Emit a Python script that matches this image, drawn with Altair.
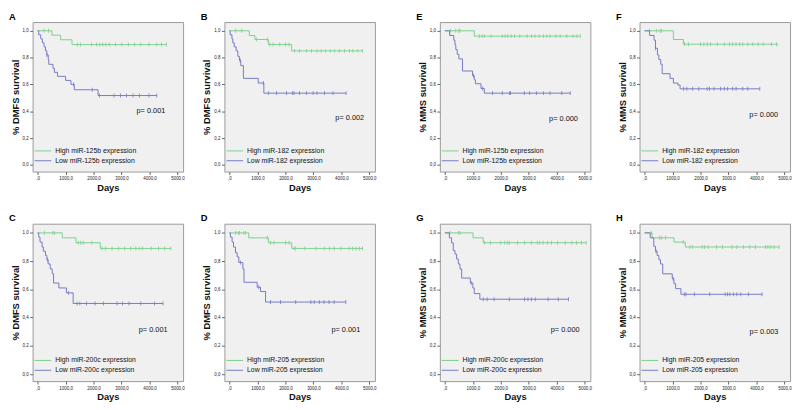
import altair as alt
import pandas as pd

GREEN = "#7cd08c"
BLUE = "#7579c4"

# ---------------- data (days, survival) ----------------
A_HIGH_STEPS = [(0, 1.0), (510, 0.967), (820, 0.933), (1230, 0.897)]
A_HIGH_END = 4600
A_HIGH_CENS = [230, 390, 1420, 1530, 1930, 2100, 2220, 2330, 2440, 2560, 2780, 3010, 3240, 3470, 3690, 3980, 4260, 4430, 4600]
A_LOW_STEPS = [(0, 1.0), (40, 0.97), (110, 0.94), (170, 0.91), (230, 0.88), (280, 0.85), (330, 0.82), (380, 0.785),
               (400, 0.75), (550, 0.72), (600, 0.69), (710, 0.66), (1000, 0.63), (1190, 0.60), (1310, 0.56), (2160, 0.517)]
A_LOW_END = 4260
A_LOW_CENS = [330, 1290, 1950, 2210, 2730, 2960, 3180, 3410, 3640, 3980, 4260]

B_HIGH_STEPS = [(0, 1.0), (710, 0.964), (910, 0.935), (1390, 0.898), (2220, 0.85)]
B_HIGH_END = 4760
B_HIGH_CENS = [225, 440, 970, 1350, 1445, 1560, 1800, 2010, 2130, 2330, 2510, 2750, 2930, 3130, 3280, 3440, 3600,
               3760, 3930, 4110, 4290, 4410, 4590, 4760]
B_LOW_STEPS = [(0, 1.0), (25, 0.97), (90, 0.94), (120, 0.91), (170, 0.88), (240, 0.85), (300, 0.81), (355, 0.78),
               (405, 0.74), (500, 0.645), (1030, 0.61), (1230, 0.535)]
B_LOW_END = 4170
B_LOW_CENS = [380, 1210, 1390, 1680, 2040, 2250, 2310, 2510, 2750, 2990, 3130, 3400, 3700, 4170]

C_HIGH_STEPS = [(0, 1.0), (880, 0.965), (1370, 0.93), (2240, 0.89)]
C_HIGH_END = 4760
C_HIGH_CENS = [240, 545, 600, 1450, 1540, 1630, 1940, 2300, 2420, 2660, 2900, 3110, 3330, 3510, 3630, 3750, 4060,
               4320, 4540, 4760]
C_LOW_STEPS = [(0, 1.0), (40, 0.97), (85, 0.935), (160, 0.90), (205, 0.87), (280, 0.84), (330, 0.81), (375, 0.78),
               (450, 0.745), (520, 0.71), (570, 0.645), (760, 0.61), (1030, 0.575), (1270, 0.50)]
C_LOW_END = 4480
C_LOW_CENS = [360, 1100, 1410, 1510, 1750, 2050, 2360, 2840, 3030, 3270, 3690, 4180, 4480]

D_HIGH_STEPS = [(0, 1.0), (690, 0.965), (1390, 0.93), (2225, 0.89)]
D_HIGH_END = 4760
D_HIGH_CENS = [215, 310, 360, 515, 575, 1350, 1470, 1590, 2010, 2130, 2310, 2370, 2700, 3090, 3390, 3570, 3740,
               3980, 4280, 4400, 4520, 4640, 4760]
D_LOW_STEPS = [(0, 1.0), (35, 0.97), (95, 0.935), (145, 0.90), (215, 0.86), (275, 0.83), (335, 0.79), (480, 0.745),
               (520, 0.65), (990, 0.615), (1110, 0.585), (1290, 0.51)]
D_LOW_END = 4160
D_LOW_CENS = [395, 1050, 1470, 1830, 2370, 2910, 3030, 3210, 3380, 3560, 3740, 4160]

E_HIGH_STEPS = [(0, 1.0), (1050, 0.96)]
E_HIGH_END = 4840
E_HIGH_CENS = [205, 390, 500, 540, 1230, 1330, 1410, 1650, 2050, 2150, 2250, 2370, 2490, 2680, 2940, 3100, 3220,
               3370, 3520, 3640, 3760, 3970, 4120, 4360, 4580, 4720, 4840]
E_LOW_STEPS = [(0, 1.0), (170, 0.965), (320, 0.93), (360, 0.895), (390, 0.86), (440, 0.825), (500, 0.79), (630, 0.70),
               (990, 0.665), (1050, 0.635), (1090, 0.605), (1290, 0.57), (1410, 0.535)]
E_LOW_END = 4480
E_LOW_CENS = [1020, 1350, 1700, 2050, 2310, 2350, 2840, 3030, 3270, 3520, 3760, 4180, 4480]

F_HIGH_STEPS = [(0, 1.0), (1030, 0.935), (1390, 0.90)]
F_HIGH_END = 4780
F_HIGH_CENS = [180, 420, 550, 600, 1430, 1570, 2000, 2120, 2240, 2360, 2600, 2850, 3030, 3150, 3270, 3390, 3510,
               3690, 3870, 4060, 4240, 4540, 4720]
F_LOW_STEPS = [(0, 1.0), (180, 0.965), (340, 0.93), (390, 0.87), (460, 0.82), (510, 0.785), (580, 0.75), (630, 0.68),
               (910, 0.645), (1030, 0.61), (1190, 0.595), (1270, 0.567)]
F_LOW_END = 4120
F_LOW_CENS = [390, 1390, 1510, 1720, 1940, 2240, 2320, 2480, 2720, 2850, 2970, 3150, 3270, 3510, 3690, 4120]

G_HIGH_STEPS = [(0, 1.0), (1005, 0.965), (1370, 0.93)]
G_HIGH_END = 5050
G_HIGH_CENS = [180, 480, 545, 1420, 1630, 2000, 2140, 2230, 2300, 2600, 2850, 3090, 3300, 3390, 3510, 3670, 3810,
               4030, 4300, 4540, 4700, 4880, 5050]
G_LOW_STEPS = [(0, 1.0), (160, 0.965), (240, 0.93), (300, 0.875), (360, 0.85), (420, 0.815), (480, 0.78), (540, 0.745),
               (600, 0.68), (910, 0.645), (1000, 0.61), (1050, 0.57), (1250, 0.53)]
G_LOW_END = 4420
G_LOW_CENS = [940, 1370, 1510, 1760, 2300, 2850, 2970, 3090, 3230, 3690, 4050, 4420]

H_HIGH_STEPS = [(0, 1.0), (270, 0.965), (1055, 0.935), (1455, 0.90)]
H_HIGH_END = 4810
H_HIGH_CENS = [240, 530, 600, 750, 1380, 1620, 1720, 2060, 2150, 2270, 2570, 2790, 3120, 3300, 3540, 3760, 3960,
               4330, 4410, 4510, 4630, 4810]
H_LOW_STEPS = [(0, 1.0), (200, 0.965), (330, 0.905), (390, 0.87), (450, 0.84), (510, 0.81), (570, 0.78), (650, 0.71),
               (990, 0.675), (1050, 0.64), (1110, 0.605), (1300, 0.565)]
H_LOW_END = 4200
H_LOW_CENS = [410, 1020, 1420, 1480, 1780, 2330, 2880, 2970, 3050, 3180, 3300, 3440, 3720, 4200]

MIRNA = {"A": "miR-125b", "B": "miR-182", "C": "miR-200c", "D": "miR-205",
         "E": "miR-125b", "F": "miR-182", "G": "miR-200c", "H": "miR-205"}
PVAL = {"A": "p= 0.001", "B": "p= 0.002", "C": "p= 0.001", "D": "p= 0.001",
        "E": "p= 0.000", "F": "p= 0.000", "G": "p= 0.000", "H": "p= 0.003"}
YTITLE = {"A": "% DMFS survival", "B": "% DMFS survival", "C": "% DMFS survival", "D": "% DMFS survival",
          "E": "% MMS survival", "F": "% MMS survival", "G": "% MMS survival", "H": "% MMS survival"}
X_TICKS = [0, 1000, 2000, 3000, 4000, 5000]
Y_TICKS = [0.0, 0.2, 0.4, 0.6, 0.8, 1.0]

# annotation positions (layout, not data)
P_POS = {"A": (4050, 0.40), "B": (4300, 0.35), "C": (4130, 0.31), "D": (4160, 0.31),
         "E": (4240, 0.34), "F": (4260, 0.37), "G": (4300, 0.31), "H": (4270, 0.30)}

SERIES = {
    "A": (A_HIGH_STEPS, A_HIGH_END, A_HIGH_CENS, A_LOW_STEPS, A_LOW_END, A_LOW_CENS),
    "B": (B_HIGH_STEPS, B_HIGH_END, B_HIGH_CENS, B_LOW_STEPS, B_LOW_END, B_LOW_CENS),
    "C": (C_HIGH_STEPS, C_HIGH_END, C_HIGH_CENS, C_LOW_STEPS, C_LOW_END, C_LOW_CENS),
    "D": (D_HIGH_STEPS, D_HIGH_END, D_HIGH_CENS, D_LOW_STEPS, D_LOW_END, D_LOW_CENS),
    "E": (E_HIGH_STEPS, E_HIGH_END, E_HIGH_CENS, E_LOW_STEPS, E_LOW_END, E_LOW_CENS),
    "F": (F_HIGH_STEPS, F_HIGH_END, F_HIGH_CENS, F_LOW_STEPS, F_LOW_END, F_LOW_CENS),
    "G": (G_HIGH_STEPS, G_HIGH_END, G_HIGH_CENS, G_LOW_STEPS, G_LOW_END, G_LOW_CENS),
    "H": (H_HIGH_STEPS, H_HIGH_END, H_HIGH_CENS, H_LOW_STEPS, H_LOW_END, H_LOW_CENS),
}

FONT = "Liberation Sans"
W = 153


def step_df(steps, end):
    t = [p[0] for p in steps] + [end]
    s = [p[1] for p in steps] + [steps[-1][1]]
    return pd.DataFrame({"t": t, "s": s})


def cens_df(steps, cens):
    rows = []
    for c in cens:
        val = steps[0][1]
        for tt, ss in steps:
            if tt <= c:
                val = ss
        rows.append({"t": c, "s": val})
    return pd.DataFrame(rows)


def panel(key, h):
    hs, he, hc, ls, le, lc = SERIES[key]
    xs = alt.Scale(domain=[-180, 5200], nice=False, zero=False)
    ys = alt.Scale(domain=[-0.05, 1.065], nice=False, zero=False)
    x = alt.X("t:Q", scale=xs, axis=alt.Axis(
        values=X_TICKS, title="Days",
        labelExpr="datum.value == 0 ? ',0' : replace(format(datum.value, '.1f'), '.', ',')"))
    y = alt.Y("s:Q", scale=ys, axis=alt.Axis(
        values=Y_TICKS, title=YTITLE[key],
        labelExpr="replace(format(datum.value, '.1f'), '.', ',')"))
    layers = []
    for steps, end, cens, col in ((hs, he, hc, GREEN), (ls, le, lc, BLUE)):
        layers.append(alt.Chart(step_df(steps, end)).mark_line(
            interpolate="step-after", strokeWidth=1, color=col).encode(x=x, y=y))
        layers.append(alt.Chart(cens_df(steps, cens)).mark_tick(
            orient="vertical", thickness=0.8, size=4, color=col, opacity=1).encode(x=x, y=y))
    px, py = P_POS[key]
    layers.append(alt.Chart(pd.DataFrame({"t": [px], "s": [py], "lab": [PVAL[key]]})).mark_text(
        font=FONT, fontSize=7.5, color="#111", align="center", baseline="middle").encode(
        x=x, y=y, text="lab:N"))
    # legend drawn inside the plot, lower left
    for i, (lab, col) in enumerate(((f"High {MIRNA[key]} expression", GREEN),
                                     (f"Low {MIRNA[key]} expression", BLUE))):
        yy = h - 21 + 10 * i
        layers.append(alt.Chart(pd.DataFrame({"lab": [lab]})).mark_rule(color=col, strokeWidth=1).encode(
            x=alt.value(2), x2=alt.value(19), y=alt.value(yy)))
        layers.append(alt.Chart(pd.DataFrame({"lab": [lab]})).mark_text(
            font=FONT, fontSize=7, color="#111", align="left", baseline="middle").encode(
            x=alt.value(23), y=alt.value(yy), text="lab:N"))
    return alt.layer(*layers).properties(
        width=W, height=h,
        title=alt.TitleParams(text=key, anchor="start", frame="group", dx=-24, fontSize=9.5,
                              fontWeight="bold", font=FONT, offset=1, color="#000"))


TOP_H = 152
BOT_H = 160

top = alt.hconcat(
    alt.hconcat(panel("A", TOP_H), panel("B", TOP_H), spacing=15),
    alt.hconcat(panel("E", TOP_H), panel("F", TOP_H), spacing=23),
    spacing=39)
bottom = alt.hconcat(
    alt.hconcat(panel("C", BOT_H), panel("D", BOT_H), spacing=15),
    alt.hconcat(panel("G", BOT_H), panel("H", BOT_H), spacing=23),
    spacing=39)

chart = alt.vconcat(top, bottom, spacing=21).properties(
    padding=0,
    background="white",
).configure_view(
    fill="#f0f0f0", stroke="#9a9a9a", strokeWidth=1
).configure_axis(
    domain=False, grid=False, labelFont=FONT, labelFontSize=4.5, labelColor="#222",
    tickColor="#666", tickSize=3, labelPadding=1.5, titleFont=FONT, titleFontSize=9.5,
    titleFontWeight="bold", titleColor="#111", titlePadding=2
)

chart.save("out.html", embed_options={"renderer": "svg", "actions": False})
